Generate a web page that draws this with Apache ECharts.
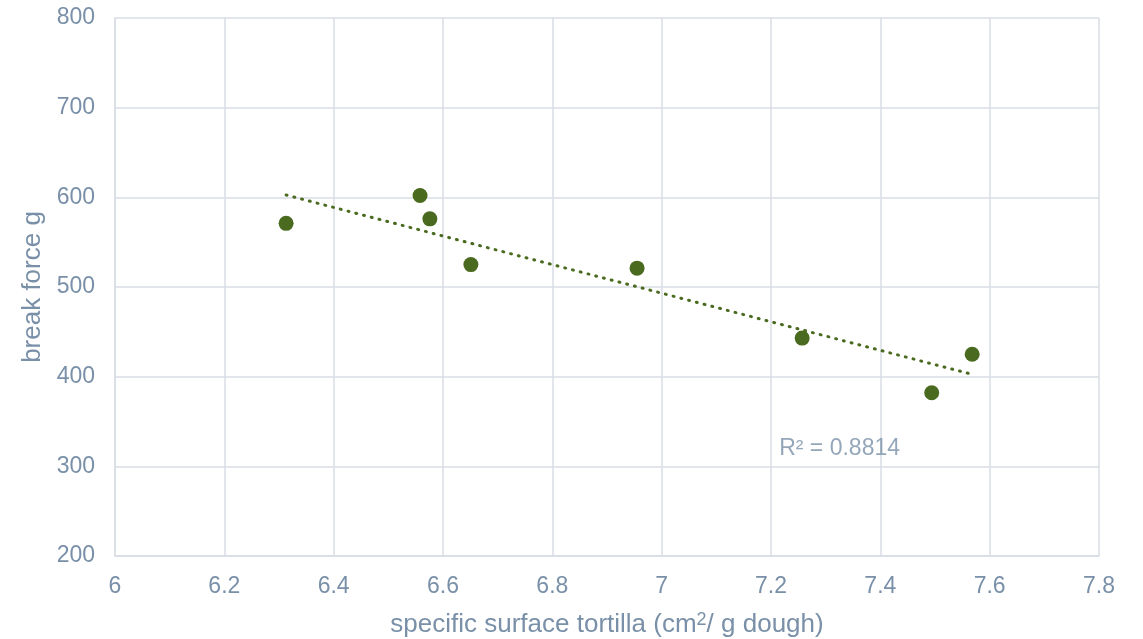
<!DOCTYPE html>
<html>
<head>
<meta charset="utf-8">
<script src="https://cdn.jsdelivr.net/npm/echarts@6/dist/echarts.min.js"></script>
<style>
  html, body { margin: 0; padding: 0; background: #fff; }
  #chart { width: 1143px; height: 639px; }
</style>
</head>
<body>
<div id="chart"></div>
<script>
// Specific surface of tortillas vs. measured break force
const surface = [6.313, 6.558, 6.576, 6.651, 6.955, 7.257, 7.494, 7.568];
const breakForce = [571, 602, 576, 525, 521, 443, 382, 425];
const r2Text = 'R² = 0.8814';
const r2Anchor = [7.215, 320];

const textColor = '#7990a8';
const gridColor = '#d9dee6';
const markColor = '#4a6b1f';

// Least-squares fit for the linear trendline
function linearFit(xs, ys) {
  const n = xs.length;
  const mx = xs.reduce((a, b) => a + b, 0) / n;
  const my = ys.reduce((a, b) => a + b, 0) / n;
  let sxy = 0, sxx = 0;
  for (let i = 0; i < n; i++) {
    sxy += (xs[i] - mx) * (ys[i] - my);
    sxx += (xs[i] - mx) * (xs[i] - mx);
  }
  const slope = sxy / sxx;
  return { slope, intercept: my - slope * mx };
}
const fit = linearFit(surface, breakForce);
const xMin = Math.min(...surface), xMax = Math.max(...surface);
const trend = [xMin, xMax].map(x => [x, fit.intercept + fit.slope * x]);

const chart = echarts.init(document.getElementById('chart'), null, { renderer: 'canvas' });
chart.setOption({
  backgroundColor: '#fff',
  animation: false,
  textStyle: { fontFamily: 'Liberation Sans, Arial, sans-serif' },
  grid: { left: 115, right: 44, top: 18, bottom: 83, outerBoundsMode: 'none', containLabel: false },
  xAxis: {
    type: 'value', min: 6, max: 7.8, interval: 0.2,
    name: 'specific surface tortilla (cm{sup|2}/ g dough)',
    nameLocation: 'middle', nameGap: 55,
    nameTextStyle: {
      color: textColor, fontSize: 26,
      rich: { sup: { fontSize: 18, color: textColor, padding: [0, 0, 10, 0] } }
    },
    axisLine: { show: true, lineStyle: { color: gridColor, width: 1.5 } },
    axisTick: { show: false },
    axisLabel: { color: textColor, fontSize: 23, margin: 19 },
    splitLine: { show: true, lineStyle: { color: gridColor, width: 1.5 } }
  },
  yAxis: {
    type: 'value', min: 200, max: 800, interval: 100,
    name: 'break force g', nameLocation: 'middle', nameGap: 62,
    nameTextStyle: { color: textColor, fontSize: 26 },
    axisLine: { show: true, lineStyle: { color: gridColor, width: 1.5 } },
    axisTick: { show: false },
    axisLabel: { color: textColor, fontSize: 23, margin: 20 },
    splitLine: { show: true, lineStyle: { color: gridColor, width: 1.5 } }
  },
  series: [
    {
      type: 'line', data: trend, symbol: 'none', silent: true, z: 2,
      lineStyle: { color: markColor, width: 3, type: [1, 7], cap: 'round' }
    },
    {
      type: 'scatter', z: 3, symbolSize: 15,
      itemStyle: { color: markColor, opacity: 1 },
      data: surface.map((x, i) => [x, breakForce[i]])
    },
    {
      type: 'scatter', z: 4, symbolSize: 0, silent: true,
      data: [r2Anchor],
      label: {
        show: true, position: 'right', distance: 0,
        formatter: r2Text, color: textColor, fontSize: 23
      }
    }
  ]
});
</script>
</body>
</html>
